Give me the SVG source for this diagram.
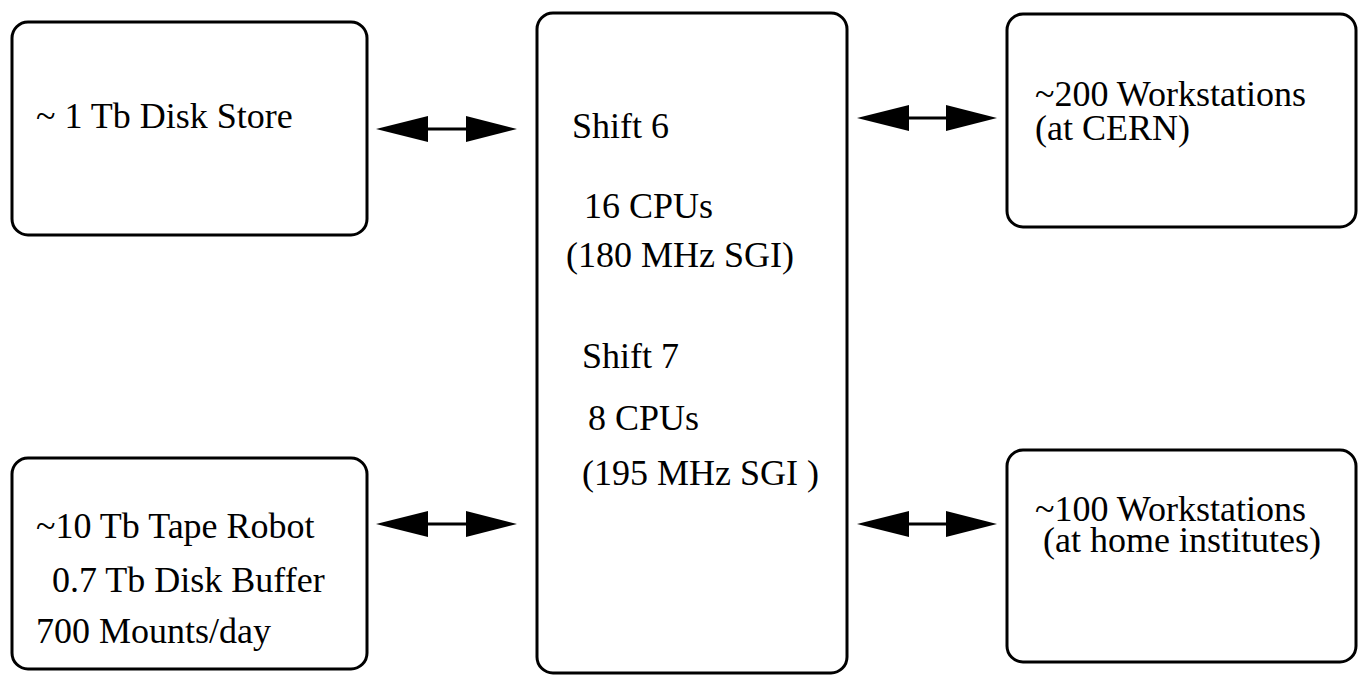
<svg xmlns="http://www.w3.org/2000/svg" width="1364" height="677" viewBox="0 0 1364 677">
<style>
.box{fill:#fff;stroke:#000;stroke-width:3}
.t{font-family:"Liberation Serif","Times New Roman",serif;font-size:36px;fill:#000}
.arr{fill:#000;stroke:none}
.shaft{stroke:#000;stroke-width:3}
</style>
<rect width="1364" height="677" fill="#fff"/>
<g id="disk">
<rect class="box" x="12" y="22" width="355" height="213" rx="16"/>
<text class="t" x="36" y="128">~ 1 Tb Disk Store</text>
</g>
<g id="tape">
<rect class="box" x="12" y="458" width="355" height="211" rx="16"/>
<text class="t" x="36" y="538">~10 Tb Tape Robot</text>
<text class="t" x="52" y="592">0.7 Tb Disk Buffer</text>
<text class="t" x="36" y="643">700 Mounts/day</text>
</g>
<g id="shift">
<rect class="box" x="537" y="13" width="310" height="660" rx="16"/>
<text class="t" x="572" y="138">Shift 6</text>
<text class="t" x="584" y="218">16 CPUs</text>
<text class="t" x="566" y="267">(180 MHz SGI)</text>
<text class="t" x="582" y="368">Shift 7</text>
<text class="t" x="588" y="430">8 CPUs</text>
<text class="t" x="582" y="485">(195 MHz SGI )</text>
</g>
<g id="ws-cern">
<rect class="box" x="1007" y="14" width="349" height="213" rx="16"/>
<text class="t" x="1035" y="106">~200 Workstations</text>
<text class="t" x="1035" y="140">(at CERN)</text>
</g>
<g id="ws-home">
<rect class="box" x="1007" y="450" width="349" height="212" rx="16"/>
<text class="t" x="1035" y="521">~100 Workstations</text>
<text class="t" x="1043" y="552">(at home institutes)</text>
</g>
<g id="connectors">
<g transform="translate(376,129)">
<line class="shaft" x1="50" y1="0" x2="92" y2="0"/>
<path class="arr" d="M0 0 L52 -13 L52 13 Z"/>
<path class="arr" d="M141 0 L90 -13 L90 13 Z"/>
</g>
<g transform="translate(857,118)">
<line class="shaft" x1="50" y1="0" x2="92" y2="0"/>
<path class="arr" d="M0 0 L52 -13 L52 13 Z"/>
<path class="arr" d="M140 0 L89 -13 L89 13 Z"/>
</g>
<g transform="translate(376,524)">
<line class="shaft" x1="50" y1="0" x2="92" y2="0"/>
<path class="arr" d="M0 0 L52 -13 L52 13 Z"/>
<path class="arr" d="M141 0 L90 -13 L90 13 Z"/>
</g>
<g transform="translate(857,524)">
<line class="shaft" x1="50" y1="0" x2="92" y2="0"/>
<path class="arr" d="M0 0 L52 -13 L52 13 Z"/>
<path class="arr" d="M140 0 L89 -13 L89 13 Z"/>
</g>
</g>
</svg>
